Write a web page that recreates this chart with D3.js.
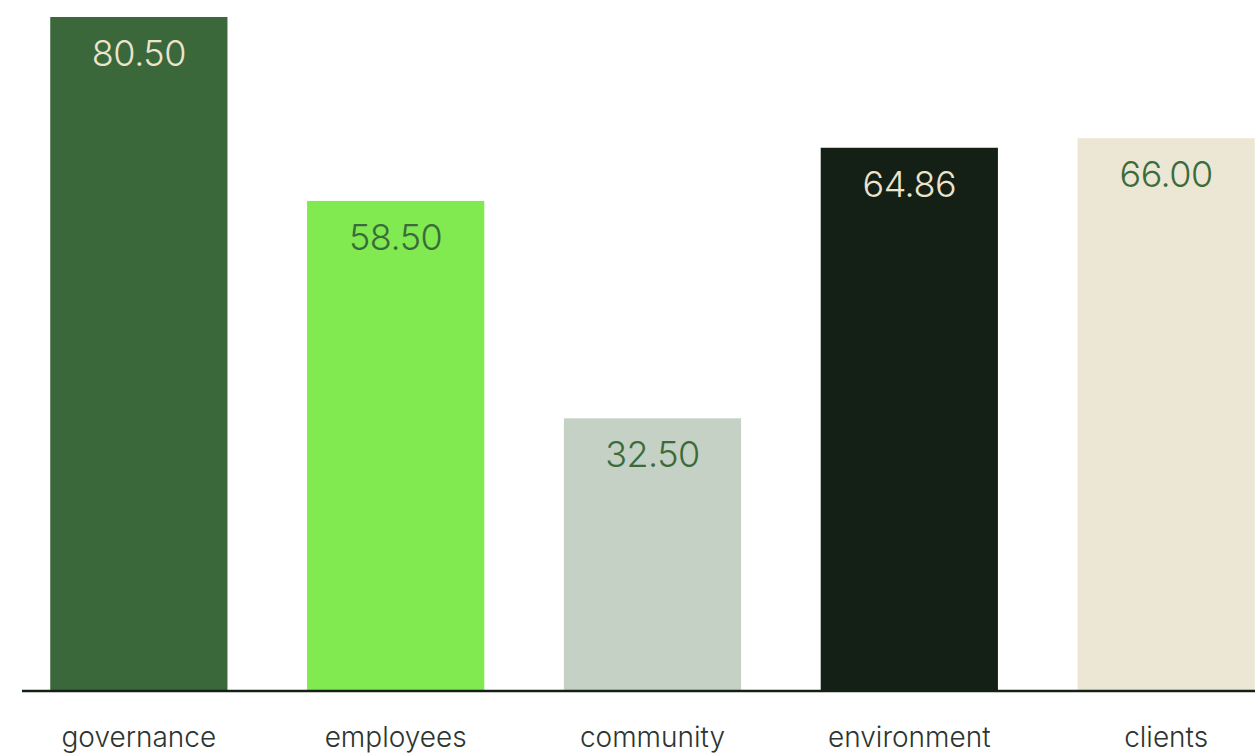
<!DOCTYPE html>
<html>
<head>
<meta charset="utf-8">
<script src="https://cdn.jsdelivr.net/npm/d3@7"></script>
<style>
  body { margin: 0; background: #fff; overflow: hidden; }
  svg { display: block; font-family: Inter, "Noto Sans", sans-serif; }
</style>
</head>
<body>
<svg id="chart" width="1255" height="753"></svg>
<script>
// chart data
const categories = ["governance", "employees", "community", "environment", "clients"];
const scores = [80.50, 58.50, 32.50, 64.86, 66.00];
const barColors = ["#3a683b", "#80ea50", "#c5d1c4", "#142016", "#ece6d4"];
const labelColors = ["#ece4cc", "#3b6b3b", "#3b6b3b", "#ece4cc", "#3b6b3b"];

const svg = d3.select("#chart");
const baseY = 690;

var x = d3.scaleBand()
    .domain(categories)
    .range([22, 1283])
    .paddingInner(0.31)
    .paddingOuter(0.11);

var y = d3.scaleLinear()
    .domain([0, 80.5])
    .range([baseY, 17]);

const rows = categories.map((c, i) => ({cat: c, v: scores[i], fill: barColors[i], lab: labelColors[i]}));

svg.selectAll("rect.bar")
    .data(rows)
    .join("rect")
    .attr("class", "bar")
    .attr("x", d => x(d.cat))
    .attr("width", x.bandwidth())
    .attr("y", d => y(d.v))
    .attr("height", d => baseY - y(d.v))
    .attr("fill", d => d.fill);

// value labels inside bar tops
svg.selectAll("text.val")
    .data(rows)
    .join("text")
    .attr("class", "val")
    .attr("x", d => x(d.cat) + x.bandwidth() / 2)
    .attr("y", d => y(d.v) + 49)
    .attr("text-anchor", "middle")
    .attr("font-size", 36)
    .attr("font-weight", 300)
    .attr("letter-spacing", "-0.5")
    .attr("fill", d => d.lab)
    .text(d => d.v.toFixed(2));

// baseline
svg.append("line")
    .attr("x1", 22).attr("x2", 1255)
    .attr("y1", baseY + 1).attr("y2", baseY + 1)
    .attr("stroke", "#142016")
    .attr("stroke-width", 2.5);

// category labels
svg.selectAll("text.cat")
    .data(categories)
    .join("text")
    .attr("class", "cat")
    .attr("x", d => x(d) + x.bandwidth() / 2)
    .attr("y", 747)
    .attr("text-anchor", "middle")
    .attr("font-size", 28)
    .attr("font-weight", 300)
    .attr("fill", "#2c3530")
    .text(d => d);
</script>
</body>
</html>
